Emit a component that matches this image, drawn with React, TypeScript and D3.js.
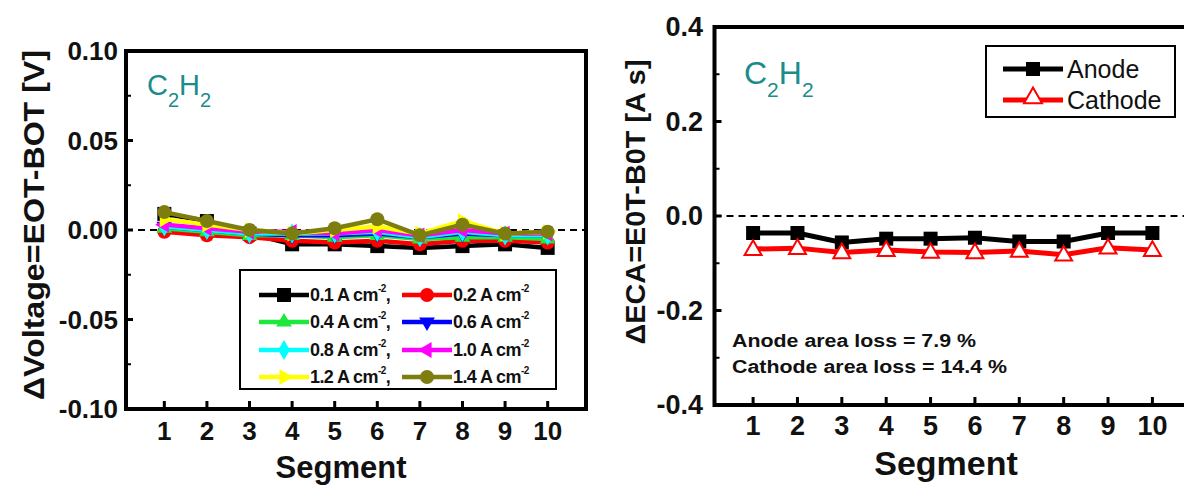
import React from "react";
import * as d3 from "d3";

const segments = [1, 2, 3, 4, 5, 6, 7, 8, 9, 10];

// Left panel: ΔVoltage per current density
const currentLabels = ["0.1", "0.2", "0.4", "0.6", "0.8", "1.0", "1.2", "1.4"];
const v01 = [0.009, 0.005, -0.002, -0.008, -0.008, -0.009, -0.01, -0.009, -0.008, -0.01];
const v02 = [-0.001, -0.003, -0.004, -0.006, -0.007, -0.006, -0.008, -0.006, -0.006, -0.007];
const v04 = [0.001, -0.001, -0.003, -0.003, -0.004, -0.003, -0.005, -0.004, -0.004, -0.005];
const v06 = [0.002, 0.0, -0.002, -0.003, -0.003, -0.002, -0.004, -0.002, -0.003, -0.003];
const v08 = [0.002, 0.0, -0.002, -0.002, -0.002, -0.001, -0.004, -0.001, -0.003, -0.003];
const v10 = [0.003, 0.001, -0.001, -0.001, -0.002, 0.0, -0.003, 0.0, -0.002, -0.002];
const v12 = [0.006, 0.003, 0.0, -0.002, 0.0, 0.002, -0.002, 0.005, -0.002, -0.001];
const v14 = [0.01, 0.005, 0.0, -0.002, 0.001, 0.006, -0.003, 0.003, -0.002, -0.001];
const voltageSeries = [v01, v02, v04, v06, v08, v10, v12, v14];
const voltageColors = ["#000000", "#ff0000", "#1ee83c", "#0000ff", "#00ffff", "#ff00ff", "#ffff00", "#7d7d10"];
const voltageMarkers = ["square", "circle", "triUp", "triDown", "diamond", "triLeft", "triRight", "circle"];
const leftYTicks = [-0.1, -0.05, 0, 0.05, 0.1];
const leftYMinor = [-0.075, -0.025, 0.025, 0.075];

// Right panel: ΔECA
const anode = [-0.036, -0.036, -0.056, -0.048, -0.048, -0.046, -0.054, -0.054, -0.036, -0.036];
const cathode = [-0.07, -0.068, -0.077, -0.072, -0.076, -0.077, -0.074, -0.082, -0.067, -0.072];
const rightYTicks = [-0.4, -0.2, 0, 0.2, 0.4];
const rightYMinor = [-0.3, -0.1, 0.1, 0.3];

const FONT = "'Liberation Sans', Arial, Helvetica, sans-serif";
const TEAL = "#1a8c8c";

function markerPath(kind: string, size: number) {
  const s = d3.symbol();
  if (kind === "square") return { d: s.type(d3.symbolSquare).size(size * size)(), rot: 0 };
  if (kind === "circle") return { d: s.type(d3.symbolCircle).size(Math.PI * size * size / 4)(), rot: 0 };
  if (kind === "diamond") return { d: s.type(d3.symbolDiamond).size(size * size * 0.6)(), rot: 0 };
  const tri = s.type(d3.symbolTriangle).size(size * size * 0.55)();
  const rot = kind === "triUp" ? 0 : kind === "triDown" ? 180 : kind === "triLeft" ? -90 : 90;
  return { d: tri, rot };
}

function Marker({ kind, x, y, color, size, fill }: any) {
  const m = markerPath(kind, size);
  return (
    <path
      d={m.d as string}
      transform={`translate(${x},${y}) rotate(${m.rot})`}
      fill={fill ?? color}
      stroke={color}
      strokeWidth={fill ? 2 : 0}
    />
  );
}

export default function App() {
  // Left scales
  const xL = d3.scaleLinear().domain([0.1, 10.9]).range([126, 586]);
  const yL = d3.scaleLinear().domain([-0.1, 0.1]).range([409, 51]);
  // Right scales
  const xR = d3.scaleLinear().domain([0.13, 10.87]).range([714.5, 1191]);
  const yR = d3.scaleLinear().domain([-0.4, 0.4]).range([405, 27]);

  const lineL = d3.line<number>().x((_, i) => xL(segments[i])).y((d) => yL(d));
  const lineR = d3.line<number>().x((_, i) => xR(segments[i])).y((d) => yR(d));

  const legendRows = [295, 322, 350, 377];

  return (
    <svg width={1184} height={485} style={{ position: "absolute", left: 0, top: 0, background: "#fff" }} fontFamily={FONT}>
      <rect x={0} y={0} width={1184} height={485} fill="#fff" />

      {/* ================= LEFT PANEL ================= */}
      <g>
        <line x1={xL(0.1)} x2={xL(10.9)} y1={yL(0)} y2={yL(0)} stroke="#000" strokeWidth={2} strokeDasharray="7,5" />
        {voltageSeries.map((vals, si) => (
          <g key={si}>
            <path d={lineL(vals) as string} fill="none" stroke={voltageColors[si]} strokeWidth={4.5} />
            {vals.map((v, i) => (
              <Marker key={i} kind={voltageMarkers[si]} x={xL(segments[i])} y={yL(v)} color={voltageColors[si]} size={14} />
            ))}
          </g>
        ))}
        <rect x={xL(0.1)} y={yL(0.1)} width={xL(10.9) - xL(0.1)} height={yL(-0.1) - yL(0.1)} fill="none" stroke="#000" strokeWidth={4} />
        {leftYTicks.map((t) => (
          <g key={t}>
            <line x1={xL(0.1)} x2={xL(0.1) + 7} y1={yL(t)} y2={yL(t)} stroke="#000" strokeWidth={3} />
            <text x={118} y={yL(t)} textAnchor="end" dominantBaseline="central" fontSize={26} fontWeight="bold" fill="#111">
              {d3.format(".2f")(t).replace("−", "-")}
            </text>
          </g>
        ))}
        {leftYMinor.map((t) => (
          <line key={t} x1={xL(0.1)} x2={xL(0.1) + 5} y1={yL(t)} y2={yL(t)} stroke="#000" strokeWidth={2} />
        ))}
        {segments.map((s) => (
          <g key={s}>
            <line x1={xL(s)} x2={xL(s)} y1={yL(-0.1)} y2={yL(-0.1) - 8} stroke="#000" strokeWidth={3} />
            <text x={xL(s)} y={431} textAnchor="middle" dominantBaseline="central" fontSize={26} fontWeight="bold" fill="#111">
              {s}
            </text>
          </g>
        ))}
        <text x={341} y={478} textAnchor="middle" fontSize={31} fontWeight="bold" fill="#111">Segment</text>
        <text
          transform="translate(44,225) rotate(-90)"
          textAnchor="middle"
          fontSize={30}
          fontWeight="bold"
          fill="#111"
          textLength={350}
          lengthAdjust="spacingAndGlyphs"
        >
          ΔVoltage=EOT-BOT [V]
        </text>
        <text x={147} y={95} fontSize={29} fill={TEAL}>
          C<tspan fontSize={20} dy={12}>2</tspan><tspan dy={-12}>H</tspan><tspan fontSize={20} dy={12}>2</tspan>
        </text>
        {/* legend */}
        <rect x={240} y={270} width={316} height={119} fill="#fff" stroke="#000" strokeWidth={2} />
        {currentLabels.map((lab, i) => {
          const col = i % 2;
          const row = Math.floor(i / 2);
          const lx0 = col === 0 ? 259 : 402;
          const ly = legendRows[row];
          return (
            <g key={lab}>
              <line x1={lx0} x2={lx0 + 50} y1={ly} y2={ly} stroke={voltageColors[i]} strokeWidth={4.5} />
              <Marker kind={voltageMarkers[i]} x={lx0 + 25} y={ly} color={voltageColors[i]} size={14} />
              <text x={lx0 + 51} y={ly} dominantBaseline="central" fontSize={18} fontWeight="bold" fill="#111" letterSpacing={-0.6}>
                {lab} A cm<tspan fontSize={10} dy={-7}>-2</tspan>
                {col === 0 ? <tspan dy={7}>,</tspan> : null}
              </text>
            </g>
          );
        })}
      </g>

      {/* ================= RIGHT PANEL ================= */}
      <g>
        <line x1={xR(0.13)} x2={1184} y1={yR(0)} y2={yR(0)} stroke="#000" strokeWidth={2} strokeDasharray="7,5" />
        <path d={lineR(anode) as string} fill="none" stroke="#000" strokeWidth={5} />
        {anode.map((v, i) => (
          <Marker key={i} kind="square" x={xR(segments[i])} y={yR(v)} color="#000" size={14} />
        ))}
        <path d={lineR(cathode) as string} fill="none" stroke="#ff0000" strokeWidth={5} />
        {cathode.map((v, i) => (
          <Marker key={i} kind="triUp" x={xR(segments[i])} y={yR(v) + 1} color="#ff0000" size={15} fill="#fff" />
        ))}
        <path
          d={`M1190,${yR(0.4)} H${xR(0.13)} V${yR(-0.4)} H1190`}
          fill="none"
          stroke="#000"
          strokeWidth={4}
        />
        {rightYTicks.map((t) => (
          <g key={t}>
            <line x1={xR(0.13)} x2={xR(0.13) + 7} y1={yR(t)} y2={yR(t)} stroke="#000" strokeWidth={3} />
            <text x={703} y={yR(t)} textAnchor="end" dominantBaseline="central" fontSize={27} fontWeight="bold" fill="#111">
              {d3.format(".1f")(t).replace("−", "-")}
            </text>
          </g>
        ))}
        {rightYMinor.map((t) => (
          <line key={t} x1={xR(0.13)} x2={xR(0.13) + 5} y1={yR(t)} y2={yR(t)} stroke="#000" strokeWidth={2} />
        ))}
        {segments.map((s) => (
          <g key={s}>
            <line x1={xR(s)} x2={xR(s)} y1={yR(-0.4)} y2={yR(-0.4) - 8} stroke="#000" strokeWidth={3} />
            <text x={xR(s)} y={426} textAnchor="middle" dominantBaseline="central" fontSize={27} fontWeight="bold" fill="#111">
              {s}
            </text>
          </g>
        ))}
        <text x={946} y={475} textAnchor="middle" fontSize={34} fontWeight="bold" fill="#111">Segment</text>
        <text
          transform="translate(645,202) rotate(-90)"
          textAnchor="middle"
          fontSize={27}
          fontWeight="bold"
          fill="#111"
          textLength={285}
          lengthAdjust="spacingAndGlyphs"
        >
          ΔECA=E0T-B0T [A s]
        </text>
        <text x={744} y={84} fontSize={32} fill={TEAL}>
          C<tspan fontSize={21} dy={13}>2</tspan><tspan dy={-13}>H</tspan><tspan fontSize={21} dy={13}>2</tspan>
        </text>
        <rect x={986} y={46} width={189} height={71} fill="#fff" stroke="#000" strokeWidth={2} />
        <line x1={1003} x2={1063} y1={69} y2={69} stroke="#000" strokeWidth={5} />
        <Marker kind="square" x={1033} y={69} color="#000" size={14} />
        <text x={1067} y={69} dominantBaseline="central" fontSize={25} fill="#111">Anode</text>
        <line x1={1003} x2={1063} y1={100} y2={100} stroke="#ff0000" strokeWidth={5} />
        <Marker kind="triUp" x={1033} y={98} color="#ff0000" size={16} fill="#fff" />
        <text x={1067} y={100} dominantBaseline="central" fontSize={25} fill="#111">Cathode</text>
        <text x={732} y={341} dominantBaseline="central" fontSize={18} fontWeight="bold" fill="#111" textLength={244} lengthAdjust="spacingAndGlyphs">
          Anode area loss = 7.9 %
        </text>
        <text x={732} y={367} dominantBaseline="central" fontSize={18} fontWeight="bold" fill="#111" textLength={275} lengthAdjust="spacingAndGlyphs">
          Cathode area loss = 14.4 %
        </text>
      </g>
    </svg>
  );
}
